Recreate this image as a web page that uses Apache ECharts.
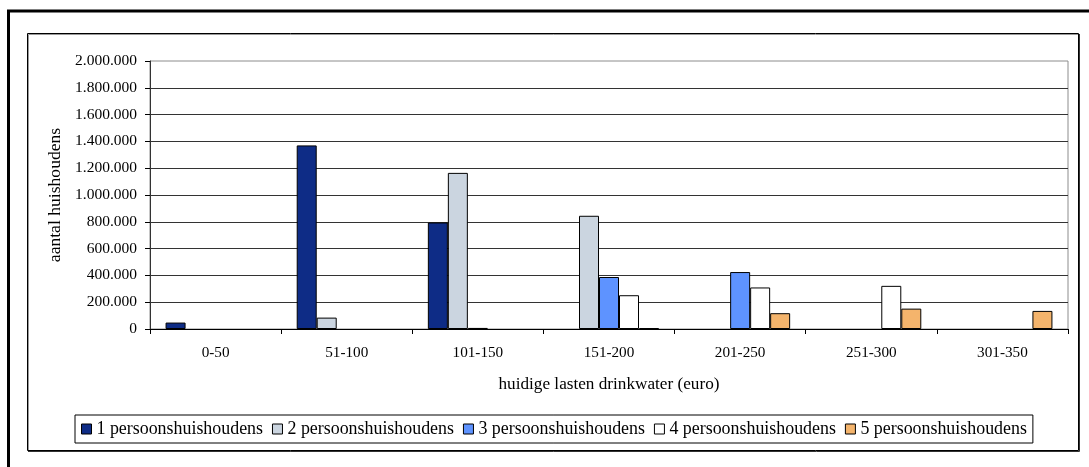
<!DOCTYPE html>
<html>
<head>
<meta charset="utf-8">
<script src="https://cdn.jsdelivr.net/npm/echarts@6/dist/echarts.min.js"></script>
<style>
  html, body { margin: 0; padding: 0; background: #fff; }
  #chart { width: 1089px; height: 467px; }
</style>
</head>
<body>
<div id="chart"></div>
<script>
// categorieen (euro per jaar)
const categories = ['0-50', '51-100', '101-150', '151-200', '201-250', '251-300', '301-350'];

// aantal huishoudens per klasse
const p1 = [48000, 1370000, 795000, 0, 0, 0, 0];
const p2 = [0, 85000, 1165000, 845000, 0, 0, 0];
const p3 = [0, 0, 8000, 388000, 425000, 0, 0];
const p4 = [0, 0, 0, 252000, 310000, 322000, 0];
const p5 = [0, 0, 0, 7000, 118000, 152000, 135000];

const seriesNames = ['1 persoonshuishoudens', '2 persoonshuishoudens', '3 persoonshuishoudens',
    '4 persoonshuishoudens', '5 persoonshuishoudens'];
const seriesColors = ['#0e2c86', '#cbd5e0', '#5e93ff', '#ffffff', '#f4b46c'];
const yTicks = { min: 0, max: 2000000, interval: 200000 };

const fontFam = '"Liberation Serif", "Times New Roman", serif';

function dutchNumber(v) {
    return String(v).replace(/\B(?=(\d{3})+(?!\d))/g, '.');
}

const chart = echarts.init(document.getElementById('chart'));

// lege klassen niet tekenen (geen randje op de as)
const series = [p1, p2, p3, p4, p5].map(function (vals, i) {
    return {
        name: seriesNames[i],
        type: 'bar',
        data: vals.map(function (v) { return v === 0 ? '-' : v; }),
        barWidth: 20,
        barGap: '0%',
        itemStyle: { color: seriesColors[i], borderColor: '#000', borderWidth: 1 },
        emphasis: { disabled: true }
    };
});

const option = {
    animation: false,
    backgroundColor: '#fff',
    textStyle: { fontFamily: fontFam, color: '#000' },
    grid: {
        left: 150, right: 21, top: 61, bottom: 138,
        show: true, borderColor: '#8c8c8c', borderWidth: 1, backgroundColor: 'transparent'
    },
    legend: {
        left: 75, top: 415,
        padding: [5, 6, 5, 6],
        borderColor: '#000', borderWidth: 1,
        itemWidth: 10, itemHeight: 10, itemGap: 9,
        icon: 'rect',
        itemStyle: { borderColor: '#000', borderWidth: 1 },
        textStyle: { fontFamily: fontFam, fontSize: 17.9, color: '#000', padding: [0, 0, 0, 0] },
        data: seriesNames
    },
    xAxis: {
        type: 'category',
        data: categories,
        name: 'huidige lasten drinkwater (euro)',
        nameLocation: 'middle',
        nameGap: 47,
        nameTextStyle: { fontFamily: fontFam, fontSize: 17.2, color: '#000' },
        axisLine: { lineStyle: { color: '#000', width: 1 } },
        axisTick: { show: true, length: 5, alignWithLabel: false, lineStyle: { color: '#000' } },
        axisLabel: { fontFamily: fontFam, fontSize: 15.2, color: '#000', margin: 17 },
        splitLine: { show: false }
    },
    yAxis: {
        type: 'value',
        min: yTicks.min, max: yTicks.max, interval: yTicks.interval,
        name: 'aantal huishoudens',
        nameLocation: 'middle',
        nameGap: 84,
        nameTextStyle: { fontFamily: fontFam, fontSize: 17.6, color: '#000' },
        axisLine: { show: true, lineStyle: { color: '#333', width: 1 } },
        axisTick: { show: true, length: 5, lineStyle: { color: '#000' } },
        axisLabel: {
            fontFamily: fontFam, fontSize: 15.5, color: '#000', margin: 13,
            formatter: function (v) { return dutchNumber(v); }
        },
        splitLine: { show: true, showMaxLine: false, lineStyle: { color: '#333', width: 1 } }
    },
    graphic: [
        // buitenste kader (loopt door buiten beeld)
        { type: 'line', shape: { x1: 8.5, y1: 10, x2: 8.5, y2: 467 }, style: { stroke: '#000', lineWidth: 3 }, z: 100 },
        { type: 'line', shape: { x1: 7, y1: 11, x2: 1089, y2: 11 }, style: { stroke: '#000', lineWidth: 3 }, z: 100 },
        // binnenste kader met schaduw
        { type: 'rect', shape: { x: 27.5, y: 33.5, width: 1051, height: 417 }, style: { fill: 'none', stroke: '#000', lineWidth: 1 }, z: 100 },
        { type: 'polyline', shape: { points: [[28.5, 450], [28.5, 34.5], [1078, 34.5]] }, style: { fill: 'none', stroke: '#999', lineWidth: 1 }, z: 100 },
        { type: 'polyline', shape: { points: [[28, 451.5], [1079.5, 451.5], [1079.5, 34]] }, style: { fill: 'none', stroke: '#333', lineWidth: 1 }, z: 100 }
    ],
    series: series
};

chart.setOption(option);
</script>
</body>
</html>
